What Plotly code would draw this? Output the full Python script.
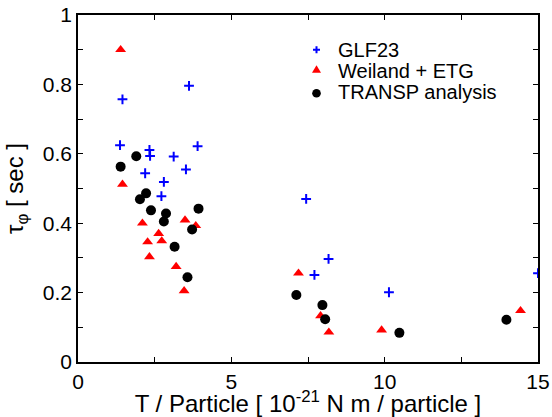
import plotly.graph_objects as go

glf_x = [1.45, 3.62, 1.37, 2.33, 2.35, 3.90, 3.12, 3.52, 2.19, 2.80, 2.72, 7.44, 8.17, 7.71, 15.0, 10.14]
glf_y = [0.757, 0.796, 0.625, 0.611, 0.594, 0.622, 0.592, 0.555, 0.544, 0.519, 0.478, 0.470, 0.297, 0.251, 0.256, 0.201]

wei_x = [1.39, 1.45, 2.10, 3.49, 3.84, 2.63, 2.27, 2.73, 2.33, 3.20, 3.46, 7.19, 7.91, 8.18, 9.90, 14.43]
wei_y = [0.900, 0.512, 0.400, 0.409, 0.393, 0.370, 0.346, 0.349, 0.303, 0.275, 0.205, 0.256, 0.133, 0.086, 0.092, 0.148]

tr_x = [1.90, 1.39, 2.22, 2.02, 2.38, 2.87, 2.80, 3.93, 3.72, 3.15, 3.57, 7.12, 7.97, 8.06, 10.48, 13.97]
tr_y = [0.593, 0.563, 0.486, 0.469, 0.437, 0.428, 0.405, 0.442, 0.382, 0.332, 0.244, 0.193, 0.164, 0.123, 0.084, 0.122]

series_names = ["GLF23", "Weiland + ETG", "TRANSP analysis"]

FONT = "Liberation Sans, Arial, sans-serif"

fig = go.Figure()
fig.add_trace(go.Scatter(x=glf_x, y=glf_y, mode="markers", name=series_names[0],
                         marker=dict(symbol="cross-thin", size=7, color="blue",
                                     line=dict(color="blue", width=2))))
fig.add_trace(go.Scatter(x=wei_x, y=wei_y, mode="markers", name=series_names[1],
                         marker=dict(symbol="triangle-up", size=9.5, color="red",
                                     line=dict(width=0))))
fig.add_trace(go.Scatter(x=tr_x, y=tr_y, mode="markers", name=series_names[2],
                         marker=dict(symbol="circle", size=10, color="black",
                                     line=dict(width=0))))

axis_common = dict(showline=True, linecolor="black", linewidth=1.5, mirror="allticks",
                   ticks="inside", ticklen=5, tickwidth=1, tickcolor="black",
                   showgrid=False, zeroline=False, automargin=False,
                   tickfont=dict(family=FONT, size=21, color="black"))

fig.update_xaxes(range=[0, 15], tickvals=[0, 5, 10, 15],
                 minor=dict(ticks="inside", ticklen=5, tickvals=[2.5, 7.5, 12.5], tickcolor="black"),
                 title=dict(text="T / Particle [ 10<sup>-21</sup> N m / particle ]",
                            font=dict(family=FONT, size=24, color="black"), standoff=4),
                 **axis_common)
fig.update_yaxes(range=[0, 1], tickvals=[0, 0.2, 0.4, 0.6, 0.8, 1],
                 ticktext=["0", "0.2", "0.4", "0.6", "0.8", "1"],
                 minor=dict(ticks="inside", ticklen=5, tickvals=[0.1, 0.3, 0.5, 0.7, 0.9], tickcolor="black"),
                 title=dict(text="τ<sub>φ</sub> [ sec ]",
                            font=dict(family=FONT, size=24, color="black"), standoff=12),
                 **axis_common)

# Legend key (drawn as layout decoration so row spacing matches the reference)
L_LEFT, L_RIGHT, L_TOP, L_BOTTOM = 78, 538, 14.7, 362
def px2x(p):
    return (p - L_LEFT) / (L_RIGHT - L_LEFT)
def py2y(p):
    return (L_BOTTOM - p) / (L_BOTTOM - L_TOP)

sym_x = px2x(316.5)
txt_x = px2x(336)
rows = [49.5, 70.5, 92.0]
annotations = []
for name, r in zip(series_names, rows):
    annotations.append(dict(x=txt_x, y=py2y(r), xref="paper", yref="paper",
                            text=name, showarrow=False, xanchor="left", yanchor="middle",
                            font=dict(family=FONT, size=20, color="black")))
shapes = [
    # plus
    dict(type="path", xref="paper", yref="paper", xsizemode="pixel", ysizemode="pixel",
         xanchor=sym_x, yanchor=py2y(rows[0]),
         path="M-3.5,0 L3.5,0 M0,-3.5 L0,3.5", line=dict(color="blue", width=2)),
    # triangle
    dict(type="path", xref="paper", yref="paper", xsizemode="pixel", ysizemode="pixel",
         xanchor=sym_x, yanchor=py2y(rows[1] - 1.5),
         path="M-4.5,-3.5 L4.5,-3.5 L0,4.0 Z", fillcolor="red", line=dict(width=0)),
    # circle
    dict(type="circle", xref="paper", yref="paper", xsizemode="pixel", ysizemode="pixel",
         xanchor=sym_x, yanchor=py2y(rows[2] + 1),
         x0=-4.3, x1=4.3, y0=-4.3, y1=4.3, fillcolor="black", line=dict(width=0)),
]

fig.update_layout(width=552, height=417,
                  margin=dict(l=78, r=14, t=15, b=55),
                  plot_bgcolor="white", paper_bgcolor="white",
                  showlegend=False,
                  annotations=annotations, shapes=shapes)

fig.write_html("out.html", config={"displayModeBar": False},
               post_script="document.body.style.margin='0';document.body.style.overflow='hidden';")
